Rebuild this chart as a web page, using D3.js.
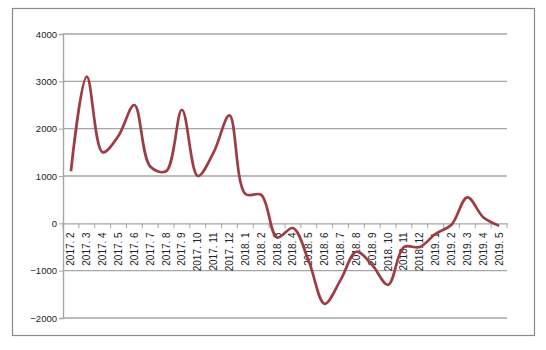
<!DOCTYPE html>
<html>
<head>
<meta charset="utf-8">
<script src="https://cdn.jsdelivr.net/npm/d3@7"></script>
<style>
  body { margin: 0; background: #fff; }
  text { font-family: 'Liberation Sans', Arial, sans-serif; fill: #222; }
</style>
</head>
<body>
<div id="graf"></div>
<script>
// categorias (mes) y valores
const meses = [
  '2017. 2', '2017. 3', '2017. 4', '2017. 5', '2017. 6', '2017. 7', '2017. 8',
  '2017. 9', '2017. 10', '2017. 11', '2017. 12', '2018. 1', '2018. 2', '2018. 3',
  '2018. 4', '2018. 5', '2018. 6', '2018. 7', '2018. 8', '2018. 9', '2018. 10',
  '2018. 11', '2018. 12', '2019. 1', '2019. 2', '2019. 3', '2019. 4', '2019. 5',
]
const valores = [
  1100, 3100, 1500, 1850, 2500, 1200, 1100,
  2400, 1000, 1500, 2280, 620, 600, -300,
  -100, -800, -1700, -1200, -600, -880, -1300,
  -500, -500, -220, -30, 550, 130, -50,
]
const yTicks = [-2000, -1000, 0, 1000, 2000, 3000, 4000]

const anchoTotal = 546
const altoTotal = 350

const svg = d3
  .select('#graf')
  .append('svg')
  .attr('width', anchoTotal)
  .attr('height', altoTotal)

// marco exterior
svg
  .append('rect')
  .attr('x', 12.5)
  .attr('y', 8.5)
  .attr('width', 522)
  .attr('height', 327)
  .attr('fill', '#fff')
  .attr('stroke', '#8a8a8a')
  .attr('stroke-width', 1.2)

const margin = { top: 34, left: 63 }
const ancho = 444
const alto = 284

const g = svg
  .append('g')
  .attr('transform', `translate(${margin.left}, ${margin.top})`)

// !ESCALADORES
const x = d3.scaleBand().domain(meses).range([0, ancho])
const y = d3.scaleLinear().domain([-2000, 4000]).range([alto, 0])

// grid horizontal
g.append('g')
  .selectAll('line')
  .data(yTicks.filter((d) => d !== 0))
  .join('line')
  .attr('x1', 0)
  .attr('x2', ancho)
  .attr('y1', (d) => y(d))
  .attr('y2', (d) => y(d))
  .attr('stroke', '#a6a6a6')
  .attr('stroke-width', 1.4)

// eje y
const ejeY = g
  .append('g')
  .call(
    d3
      .axisLeft(y)
      .tickValues(yTicks)
      .tickSize(4)
      .tickPadding(2)
      .tickFormat((d) => (d < 0 ? '\u2212' + Math.abs(d) : d))
  )
ejeY.select('.domain').attr('stroke', '#a6a6a6').attr('stroke-width', 1.4)
ejeY.selectAll('.tick line').attr('stroke', '#a6a6a6')
ejeY
  .selectAll('text')
  .style('font-size', '9.5px')
  .style('fill', '#222')

// eje x en cero
const ejeX = g
  .append('g')
  .attr('transform', `translate(0, ${y(0)})`)
  .call(d3.axisBottom(x).tickSize(0).tickSizeOuter(0))
ejeX.select('.domain').attr('stroke', '#a6a6a6').attr('stroke-width', 1.4)
ejeX
  .selectAll('text')
  .attr('transform', 'rotate(-90)')
  .attr('text-anchor', 'end')
  .attr('x', -9)
  .attr('y', 0)
  .attr('dy', '0.35em')
  .style('font-size', '10px')
  .style('fill', '#222')

// marcas entre categorias
g.append('g')
  .selectAll('line')
  .data(meses.concat(['fin']))
  .join('line')
  .attr('x1', (d, i) => i * x.step())
  .attr('x2', (d, i) => i * x.step())
  .attr('y1', y(0))
  .attr('y2', y(0) + 5)
  .attr('stroke', '#a6a6a6')

// !LINEA
const linea = d3
  .line()
  .x((d, i) => x(meses[i]) + x.bandwidth() / 2)
  .y((d) => y(d))
  .curve(d3.curveCatmullRom.alpha(0.5))

g.append('path')
  .datum(valores)
  .attr('d', linea)
  .attr('fill', 'none')
  .attr('stroke', '#9e3c45')
  .attr('stroke-width', 2.7)
  .attr('stroke-linejoin', 'round')
</script>
</body>
</html>
